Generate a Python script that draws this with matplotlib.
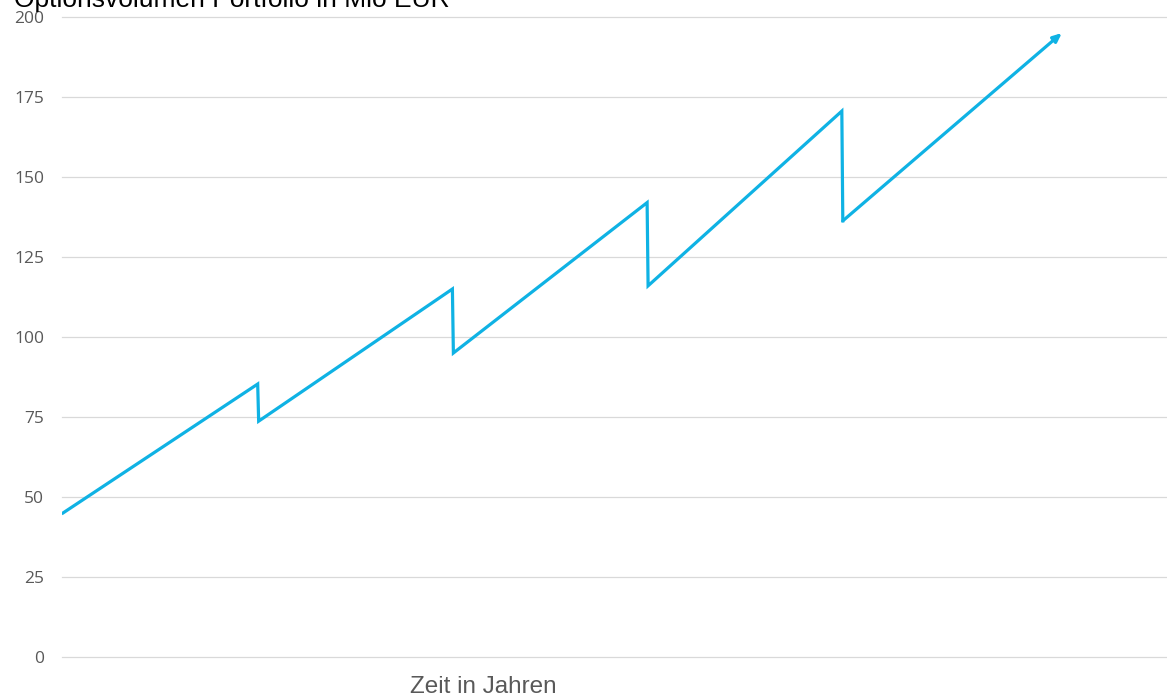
import matplotlib.pyplot as plt

# data (x in years, y in Mio EUR)
years = [0, 1, 1.005, 2, 2.005, 3, 3.005, 4, 4.005]
volume = [45, 85.3, 73.7, 115, 95, 142, 116, 170.6, 136.3]
arrow_end = (5.13, 195)
yticks = [0, 25, 50, 75, 100, 125, 150, 175, 200]

line_color = '#0FB2E4'
grid_color = '#D9D9D9'
text_grey = '#595959'

fig = plt.figure(figsize=(11.67, 6.99), dpi=100)
ax = fig.add_axes([62 / 1167, 42 / 699, 1 - 62 / 1167, 640 / 699])

ax.plot(years, volume, color=line_color, lw=2.3, solid_joinstyle='miter')
ax.annotate('', xy=arrow_end, xytext=(years[-1], volume[-1]),
            arrowprops=dict(arrowstyle='-|>,head_length=0.5,head_width=0.22',
                            color=line_color, lw=2.3, shrinkA=0, shrinkB=0))

ax.set_xlim(-0.005, 5.67)
ax.set_ylim(0, 200)
ax.set_yticks(yticks)
ax.set_xticks([])
ax.grid(axis='y', color=grid_color, lw=0.9)
for gl in ax.get_ygridlines():
    gl.set_clip_on(False)
ax.set_axisbelow(True)
for s in ax.spines.values():
    s.set_visible(False)
ax.tick_params(axis='y', length=0, pad=13, labelsize=12.5, labelcolor=text_grey)
for lab in ax.get_yticklabels():
    lab.set_fontfamily('Open Sans')

fig.text(14 / 1167, 1 - 7 / 699, 'Optionsvolumen Portfolio in Mio EUR',
         fontsize=19, family='Liberation Sans', color='black', va='baseline', ha='left')
fig.text(483 / 1167, 1 - 687 / 699, 'Zeit in Jahren',
         fontsize=17.5, family='Liberation Sans', color=text_grey, va='center', ha='center')

fig.savefig('out.png', dpi=100)
